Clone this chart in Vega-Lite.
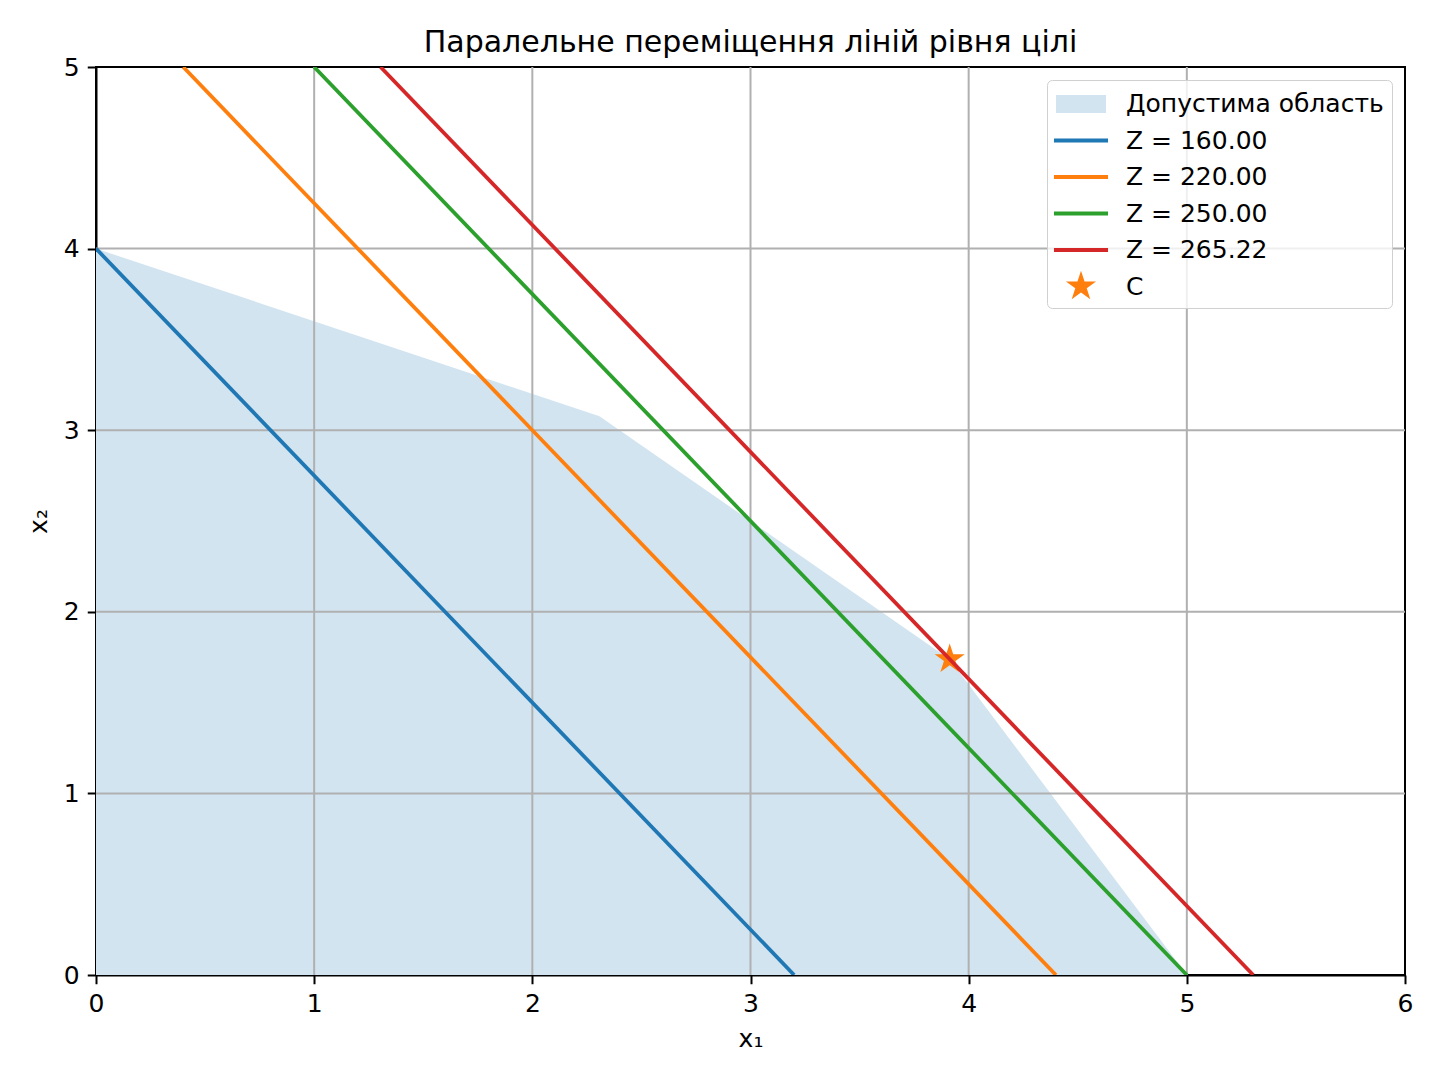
{
  "$schema": "https://vega.github.io/schema/vega-lite/v6.json",
  "width": 1309,
  "height": 908,
  "autosize": {"type": "none"},
  "padding": {"left": 96, "top": 67, "right": 35, "bottom": 105},
  "background": "white",
  "title": {
    "text": "Паралельне переміщення ліній рівня цілі",
    "font": "DejaVu Sans",
    "fontSize": 30,
    "fontWeight": "normal",
    "color": "black",
    "frame": "group",
    "offset": -3
  },
  "datasets": {
    "region": [
      {"series": "Допустима область", "x1": 0, "x2": 4},
      {"series": "Допустима область", "x1": 2.3077, "x2": 3.0769},
      {"series": "Допустима область", "x1": 3.913, "x2": 1.739},
      {"series": "Допустима область", "x1": 5, "x2": 0}
    ],
    "levels": [
      {"series": "Z = 160.00", "x1": 0, "x2": 4},
      {"series": "Z = 160.00", "x1": 3.2, "x2": 0},
      {"series": "Z = 220.00", "x1": 0.4, "x2": 5},
      {"series": "Z = 220.00", "x1": 4.4, "x2": 0},
      {"series": "Z = 250.00", "x1": 1, "x2": 5},
      {"series": "Z = 250.00", "x1": 5, "x2": 0},
      {"series": "Z = 265.22", "x1": 1.3043, "x2": 5},
      {"series": "Z = 265.22", "x1": 5.3043, "x2": 0}
    ],
    "optimum": [
      {"series": "C", "x1": 3.913, "x2": 1.739}
    ],
    "gridx": [{"x1": 1}, {"x1": 2}, {"x1": 3}, {"x1": 4}, {"x1": 5}],
    "gridy": [{"x2": 1}, {"x2": 2}, {"x2": 3}, {"x2": 4}]
  },
  "layer": [
    {
      "data": {"name": "region"},
      "mark": {"type": "area", "opacity": 1},
      "encoding": {
        "x": {"field": "x1", "type": "quantitative", "title": "x₁",
              "scale": {"domain": [0, 6], "nice": false, "zero": false},
              "axis": {"values": [0, 1, 2, 3, 4, 5, 6], "format": "d"}},
        "y": {"field": "x2", "type": "quantitative", "title": "x₂",
              "scale": {"domain": [0, 5], "nice": false},
              "axis": {"values": [0, 1, 2, 3, 4, 5], "format": "d"}},
        "color": {
          "field": "series",
          "type": "nominal",
          "scale": {
            "domain": ["Допустима область", "Z = 160.00", "Z = 220.00", "Z = 250.00", "Z = 265.22", "C"],
            "range": ["#d2e4f0", "#1f77b4", "#ff7f0e", "#2ca02c", "#d62728", "#ff7f0e"]
          },
          "legend": {
            "title": null,
            "orient": "top-right",
            "offset": 13,
            "padding": 8,
            "fillColor": "rgba(255,255,255,0.8)",
            "strokeColor": "#d0d0d0",
            "cornerRadius": 5,
            "labelFont": "DejaVu Sans",
            "labelFontSize": 25,
            "labelColor": "black",
            "labelLimit": 500,
            "labelOffset": 29,
            "rowPadding": 7.5,
            "symbolSize": 1000,
            "symbolStrokeWidth": 0,
            "symbolOffset": 10,
            "symbolOpacity": 1
          }
        }
      }
    },
    {
      "data": {"name": "gridx"},
      "mark": {"type": "rule", "color": "#b0b0b0", "strokeWidth": 2},
      "encoding": {
        "x": {"field": "x1", "type": "quantitative", "title": "x₁"}
      }
    },
    {
      "data": {"name": "gridy"},
      "mark": {"type": "rule", "color": "#b0b0b0", "strokeWidth": 2},
      "encoding": {
        "y": {"field": "x2", "type": "quantitative", "title": "x₂"}
      }
    },
    {
      "data": {"name": "optimum"},
      "mark": {
        "type": "point",
        "filled": true,
        "opacity": 1,
        "size": 1000
      },
      "encoding": {
        "x": {"field": "x1", "type": "quantitative", "title": "x₁"},
        "y": {"field": "x2", "type": "quantitative", "title": "x₂"},
        "color": {"field": "series", "type": "nominal"},
        "shape": {
          "field": "series",
          "type": "nominal",
          "scale": {
            "domain": ["Допустима область", "Z = 160.00", "Z = 220.00", "Z = 250.00", "Z = 265.22", "C"],
            "range": [
              "M-1.58,-0.57L1.58,-0.57L1.58,0.57L-1.58,0.57Z",
              "M-1.71,-0.119L1.71,-0.119L1.71,0.119L-1.71,0.119Z",
              "M-1.71,-0.119L1.71,-0.119L1.71,0.119L-1.71,0.119Z",
              "M-1.71,-0.119L1.71,-0.119L1.71,0.119L-1.71,0.119Z",
              "M-1.71,-0.119L1.71,-0.119L1.71,0.119L-1.71,0.119Z",
              "M0,-1L0.2245,-0.309L0.951,-0.309L0.363,0.118L0.588,0.809L0,0.382L-0.588,0.809L-0.363,0.118L-0.951,-0.309L-0.2245,-0.309Z"
            ]
          },
          "legend": {
            "title": null,
            "orient": "top-right",
            "offset": 13,
            "padding": 8,
            "fillColor": "rgba(255,255,255,0.8)",
            "strokeColor": "#d0d0d0",
            "cornerRadius": 5,
            "labelFont": "DejaVu Sans",
            "labelFontSize": 25,
            "labelColor": "black",
            "labelLimit": 500,
            "labelOffset": 29,
            "rowPadding": 7.5,
            "symbolSize": 1000,
            "symbolStrokeWidth": 0,
            "symbolOffset": 10,
            "symbolOpacity": 1
          }
        }
      }
    },
    {
      "data": {"name": "levels"},
      "mark": {"type": "line", "strokeWidth": 3.75, "clip": true},
      "encoding": {
        "x": {"field": "x1", "type": "quantitative", "title": "x₁"},
        "y": {"field": "x2", "type": "quantitative", "title": "x₂"},
        "color": {"field": "series", "type": "nominal"}
      }
    }
  ],
  "config": {
    "view": {"stroke": "black", "strokeWidth": 2},
    "axis": {
      "zindex": 1,
      "grid": false,
      "domainColor": "black",
      "domainWidth": 2,
      "tickColor": "black",
      "tickWidth": 2,
      "tickSize": 8.75,
      "labelFont": "DejaVu Sans",
      "labelFontSize": 25,
      "labelColor": "black",
      "labelPadding": 8,
      "labelFlush": false,
      "labelOverlap": false,
      "titleFont": "DejaVu Sans",
      "titleFontSize": 25,
      "titleFontWeight": "normal",
      "titleColor": "black"
    },
    "axisX": {"titlePadding": 10},
    "axisY": {"titlePadding": 12}
  }
}
